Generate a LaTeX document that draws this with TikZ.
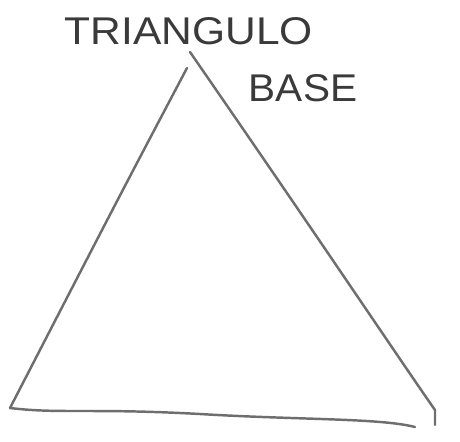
\documentclass[tikz,border=0pt]{standalone}
\usepackage{fontspec}
\setmainfont{Liberation Sans}
\definecolor{pencil}{HTML}{6E6E6E}
\definecolor{ink}{HTML}{3A3A3A}
\tikzset{
    pencilline/.style={draw=pencil, line width=1.4pt, line cap=round, line join=round},
    handtext/.style={text=ink, font=\fontsize{22}{22}\selectfont, inner sep=0pt}
}
\begin{document}
\begin{tikzpicture}[x=0.02cm, y=-0.02cm]
      \useasboundingbox (0,0) rectangle (460,441);
      % corners of the triangle
      \coordinate (apexL) at (187,68);
      \coordinate (apexR) at (190,52);
      \coordinate (botL) at (10,408);
      \coordinate (botR) at (415,427);
      \coordinate (endR) at (435,425);

      \node[handtext, xscale=1.1] (title) at (189,31) {TRIANGULO};
      \node[handtext, xscale=1.05] (base) at (303,88) {BASE};

      \draw[pencilline] (apexL) .. controls (120,195) .. (botL);
      \draw[pencilline] (botL) .. controls (60,414) and (90,408) .. (200,414)
                        .. controls (300,420) and (380,418) .. (botR);
      \draw[pencilline] (apexR) .. controls (320,240) and (400,360) .. (435,410) -- (endR);
    \end{tikzpicture}
\end{document}
